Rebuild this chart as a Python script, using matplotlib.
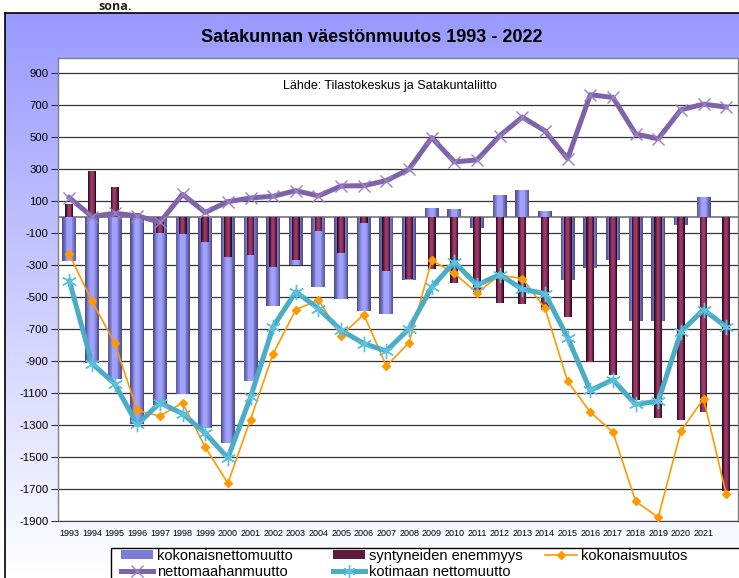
import numpy as np
import matplotlib
matplotlib.use("Agg")
import matplotlib.pyplot as plt
from matplotlib import font_manager as fm
from matplotlib.patches import Rectangle, Patch
from matplotlib.lines import Line2D
from matplotlib.colors import to_rgb

# ---------------- data ----------------
years = list(range(1993, 2023))
year_labels = [str(y) for y in range(1993, 2022)] + [""]

kokonaisnettomuutto = [-274, -911, -1010, -1292, -1177, -1104, -1319, -1413, -1026, -556,
                       -299, -435, -512, -587, -606, -392, 57, 53, -65, 140,
                       171, 41, -390, -318, -270, -646, -650, -48, 128, 4]
syntyneiden_enemmyys = [83, 290, 192, 25, -100, -107, -157, -247, -236, -310,
                        -270, -86, -226, -34, -337, -383, -326, -410, -466, -533,
                        -544, -581, -623, -905, -989, -1141, -1254, -1267, -1219, -1710]
kokonaismuutos = [-232, -525, -786, -1208, -1244, -1160, -1438, -1664, -1265, -853,
                  -577, -518, -740, -608, -930, -784, -268, -351, -473, -362,
                  -383, -569, -1026, -1219, -1344, -1777, -1877, -1338, -1135, -1731]
nettomaahanmuutto = [123, 5, 25, 10, -31, 144, 31, 98, 121, 132,
                     167, 134, 196, 198, 230, 301, 499, 347, 359, 510,
                     627, 541, 367, 767, 750, 522, 491, 673, 708, 690]
kotimaan_nettomuutto = [-397, -915, -1041, -1296, -1160, -1229, -1350, -1505, -1125, -684,
                        -466, -571, -707, -790, -836, -696, -437, -280, -424, -358,
                        -450, -477, -752, -1083, -1016, -1171, -1150, -717, -577, -686]

y_ticks = list(range(-1900, 901, 200))

# ---------------- fonts ----------------
names = {f.name for f in fm.fontManager.ttflist}
NARROW = "Liberation Sans Narrow" if "Liberation Sans Narrow" in names else None
BASE = "Liberation Sans" if "Liberation Sans" in names else "DejaVu Sans"
if NARROW:
    f_title, s_title = NARROW, 14.5
    f_x, s_x = NARROW, 8
    f_leg, s_leg = NARROW, 12.5
else:
    f_title, s_title = BASE, 13
    f_x, s_x = BASE, 6.5
    f_leg, s_leg = BASE, 10.5

W, H = 739, 578
fig = plt.figure(figsize=(W / 100, H / 100), dpi=100)
fig.patch.set_facecolor("white")


def fx(px):
    return px / W


def fy(py):
    return 1 - py / H


# ---------------- chart area background ----------------
bg = fig.add_axes([fx(5), 0, 1 - fx(5), fy(13)])
t = np.linspace(0, 1, 256)[:, None, None]
top = np.array(to_rgb("#9999ff"))[None, None, :]
bot = np.ones((1, 1, 3))
img = top * (1 - t) + bot * t
bg.imshow(img, aspect="auto", extent=[0, 1, 0, 1])
bg.set_xticks([])
bg.set_yticks([])
for side in ["right", "bottom"]:
    bg.spines[side].set_visible(False)
for side in ["left", "top"]:
    bg.spines[side].set_color("black")
    bg.spines[side].set_linewidth(1.2)
bg.set_zorder(0)

# ---------------- plot area ----------------
ax = fig.add_axes([fx(58), fy(521), fx(737.5) - fx(58), fy(57.5) - fy(521)])
ax.set_zorder(1)
ax.set_facecolor("white")
x = np.arange(len(years))


def mix(c1, c2, tt):
    a = np.array(to_rgb(c1))
    b = np.array(to_rgb(c2))
    return tuple(a * (1 - tt) + b * tt)


def shaded_bars(vals, width, dark, light, z, n=7):
    for k in range(n):
        tt = k / (n - 1)
        w = width * (1 - 0.8 * k / n)
        ax.bar(x, vals, width=w, color=mix(dark, light, tt), linewidth=0, zorder=z + k * 0.01)


shaded_bars(kokonaisnettomuutto, 0.62, "#4f4f8f", "#a0a0ff", 2)
shaded_bars(syntyneiden_enemmyys, 0.35, "#2e0a1e", "#9a3868", 3)

ax.axhline(0, color="#808080", lw=1.3, zorder=1.5)

ax.plot(x, kokonaismuutos, color="#ff9900", lw=1.2, marker="D", ms=4.5, zorder=5)
ax.plot(x, kotimaan_nettomuutto, color="#4bacc6", lw=3.6, marker=(6, 2, 0), ms=11,
        mew=1.0, mec="#5cc2e0", zorder=6)
ax.plot(x, nettomaahanmuutto, color="#7f63a8", lw=3.6, marker="x", ms=9, mew=1.0,
        mec="#9a80c8", zorder=7)

ax.set_xlim(-0.5, len(years) - 0.5)
ax.set_ylim(-1900, 1000)
ax.set_yticks(y_ticks)
ax.set_yticklabels([str(v) for v in y_ticks], fontfamily=BASE, fontsize=8.2)
ax.yaxis.grid(True, color="#333333", lw=0.9)
ax.set_axisbelow(True)
ax.set_xticks(x)
ax.set_xticklabels(year_labels, fontfamily=f_x, fontsize=s_x)
ax.tick_params(axis="x", length=0, pad=6)
ax.tick_params(axis="y", direction="out", length=5, width=0.8, color="#333333", pad=2)
for side in ["left", "top", "right"]:
    ax.spines[side].set_color("#808080")
    ax.spines[side].set_linewidth(1.0)
ax.spines["bottom"].set_color("#404040")

# ---------------- texts ----------------
fig.text(fx(372), fy(37), "Satakunnan väestönmuutos 1993 - 2022", ha="center", va="center",
         fontfamily=f_title, fontsize=s_title, fontweight="bold", color="black")
fig.text(fx(390), fy(86), "Lähde: Tilastokeskus ja Satakuntaliitto", ha="center", va="center",
         fontfamily=BASE, fontsize=9, color="black", zorder=10)
fig.text(fx(98), fy(0.5), "sona.", ha="left", va="top", fontfamily="Open Sans",
         fontsize=9, fontweight="bold", color="#222222")

# ---------------- legend ----------------
fig.patches.append(Rectangle((fx(111), fy(600)), fx(760) - fx(111), fy(548) - fy(600),
                             transform=fig.transFigure, facecolor="white", edgecolor="black",
                             lw=1.0, zorder=2))

h_koko = Patch(facecolor="#7c7cd8", edgecolor="none", label="kokonaisnettomuutto")
h_synt = Patch(facecolor="#5e1a3e", edgecolor="none", label="syntyneiden enemmyys")
h_muut = Line2D([], [], color="#ff9900", lw=1.2, marker="D", ms=4.5, label="kokonaismuutos")
h_maah = Line2D([], [], color="#7f63a8", lw=3.6, marker="x", ms=8, mew=1.0, mec="#9a80c8",
                label="nettomaahanmuutto")
h_koti = Line2D([], [], color="#4bacc6", lw=3.6, marker=(6, 2, 0), ms=9, mew=1.0,
                mec="#5cc2e0", label="kotimaan nettomuutto")

cols = [([h_koko, h_maah], 121), ([h_synt, h_koti], 333), ([h_muut], 545)]
for handles, px in cols:
    lg = fig.legend(handles=handles, loc="upper left", bbox_to_anchor=(fx(px), fy(549)),
                    frameon=False, borderpad=0, borderaxespad=0, handlelength=2.2,
                    handletextpad=0.25, labelspacing=0.12, handleheight=0.6,
                    prop={"family": f_leg, "size": s_leg})
    lg.set_zorder(5)

fig.savefig("out.png", dpi=100, facecolor="white")
